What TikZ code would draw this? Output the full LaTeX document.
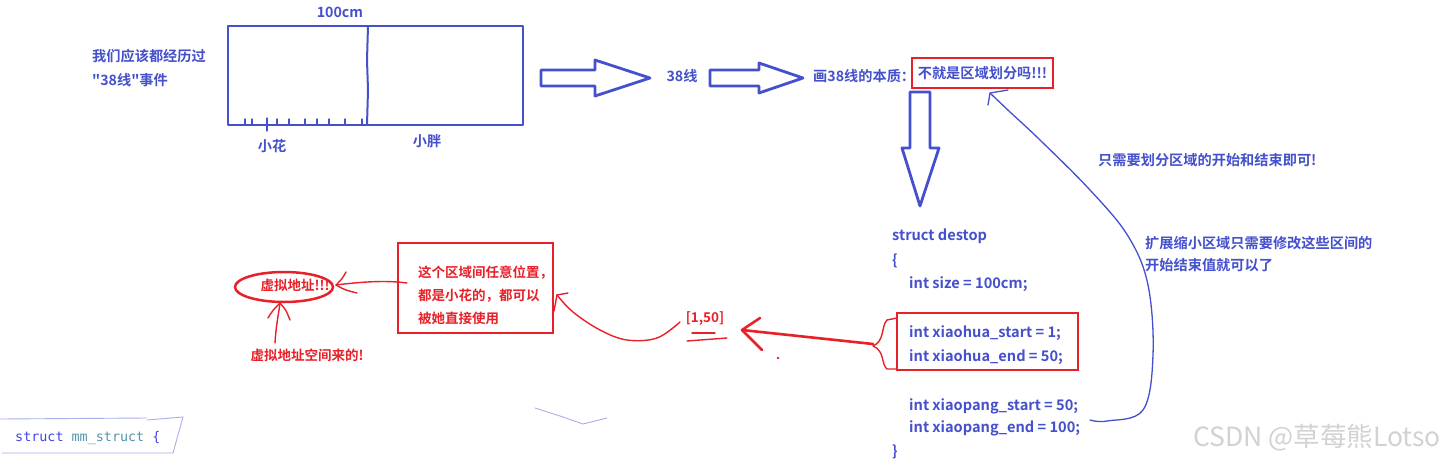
\documentclass[tikz,border=0pt]{standalone}
\usepackage{fontspec}
\newfontfamily\cjkb{Noto Sans CJK SC Bold}
\newfontfamily\cjkr{Noto Sans CJK SC}
\newfontfamily\monof{DejaVu Sans Mono}
\definecolor{myblue}{RGB}{68,80,204}
\definecolor{myred}{RGB}{232,32,40}
\definecolor{faint}{RGB}{170,175,235}
\definecolor{wm}{RGB}{210,210,210}
\definecolor{kwblue}{RGB}{70,70,230}
\definecolor{teal}{RGB}{85,150,170}
\begin{document}
\begin{tikzpicture}[x=1pt,y=-1pt,
  btxt/.style={text=myblue,font=\cjkb\fontsize{14.2}{16}\selectfont,inner sep=0pt},
  rtxt/.style={text=myred,font=\cjkb\fontsize{13.5}{16}\selectfont,inner sep=0pt},
  bpen/.style={draw=myblue,line width=1.3pt,line cap=round,line join=round},
  bthick/.style={draw=myblue,line width=2.8pt,line join=round},
  rpen/.style={draw=myred,line width=1.4pt,line cap=round,line join=round},
  rbox/.style={draw=myred,line width=2.5pt},
  codetxt/.style={text=myblue,font=\cjkb\fontsize{14.6}{16}\selectfont,inner sep=0pt,anchor=west},
  faintpen/.style={draw=faint,line width=0.9pt,line cap=round}
]
\fill[white] (0,0) rectangle (1452,464);
\useasboundingbox (0,0) rectangle (1452,464);

% ---------- top-left: the desk ----------
\node[btxt,anchor=west] (t1) at (92,56) {我们应该都经历过};
\node[btxt,anchor=west] (t2) at (92,80) {"38线"事件};
\node[btxt] (len) at (340,12) {100cm};
\draw[bthick] (228,26) rectangle (523,125);
\draw[bpen,line width=2pt] (368,26) -- (367,60) -- (368,90) -- (367,125);
\foreach \x in {245,252,277,289,305,317,329,345,362}
  \draw[bpen,line width=1.2pt] (\x,119) -- (\x,125);
\draw[bpen,line width=1.2pt] (267,118) -- (267,131);
\node[btxt] (xh) at (272,146) {小花};
\node[btxt] (xp) at (427,141) {小胖};

% ---------- block arrows ----------
\draw[bthick] (541,70) -- (595,70) -- (595,60) -- (650,78) -- (595,96) -- (595,86) -- (541,86) -- cycle;
\node[btxt] (l38) at (682,76) {38线};
\draw[bthick] (710,70) -- (759,70) -- (759,63) -- (803,78) -- (759,93) -- (759,86) -- (710,86) -- cycle;
\node[btxt,anchor=west] (ess) at (813,76) {画38线的本质：};
\node[rbox,text=myblue,font=\cjkb\fontsize{14.2}{16}\selectfont,inner sep=0pt,
      minimum width=141pt,minimum height=30pt] (q) at (982.5,73) {不就是区域划分吗!!!};
\draw[bthick] (910,92) -- (930,92) -- (930,148) -- (939,148) -- (920,206) -- (902,148) -- (910,148) -- cycle;

% ---------- code ----------
\node[codetxt] (c1) at (892,236) {struct destop};
\node[codetxt] (c2) at (892,261) {\{};
\node[codetxt] (c3) at (909,284) {int size = 100cm;};
\node[codetxt] (c4) at (909,333) {int xiaohua\_start = 1;};
\node[codetxt] (c5) at (909,357) {int xiaohua\_end = 50;};
\node[codetxt] (c6) at (909,406) {int xiaopang\_start = 50;};
\node[codetxt] (c7) at (909,428) {int xiaopang\_end = 100;};
\node[codetxt] (c8) at (892,452) {\}};
\draw[rbox] (897,313) rectangle (1078,370);
\draw[rpen] (897,318) -- (887,320) .. controls (881,326) and (885,341) .. (873,346)
            .. controls (885,351) and (881,364) .. (887,369) -- (897,369);
\coordinate (bt) at (873,344);

% ---------- blue notes and curve ----------
\node[btxt,anchor=west] (n1) at (1098,160) {只需要划分区域的开始和结束即可!};
\node[btxt,anchor=west] (n2) at (1145,243) {扩展缩小区域只需要修改这些区间的};
\node[btxt,anchor=west] (n3) at (1145,265) {开始结束值就可以了};
\coordinate (cs) at (1090,420);
\coordinate (ce) at (990,93);
\draw[bpen] plot[smooth,tension=0.6] coordinates {(cs) (1107,421) (1143,410) (1153,355) (1148,285) (1128,236) (1090,190) (1040,140) (1010,112) (ce)};
\draw[bpen] (988,105) -- (ce) -- (1008,90);

% ---------- red arrow and [1,50] ----------
\node[rtxt] (iv) at (705,319) {[1,50]};
\draw[rpen] (692,333) -- (715,333);
\draw[rpen] (687,341) -- (727,338);
\coordinate (at) at (742,330);
\draw[draw=myred,line width=2.6pt,line cap=round] (bt) -- (at);
\draw[draw=myred,line width=2.6pt,line cap=round,line join=round] (760,318) -- (at) -- (762,350);
\fill[myred] (778,358) circle (1.4pt);

% ---------- red box with text ----------
\draw[rbox] (398,243) rectangle (553,333);
\node[rtxt,anchor=west] (r1) at (418,273) {这个区域间任意位置，};
\node[rtxt,anchor=west] (r2) at (418,296) {都是小花的，都可以};
\node[rtxt,anchor=west] (r3) at (418,318) {被她直接使用};
\coordinate (rs) at (680,322);
\coordinate (re) at (557,295);
\draw[rpen] plot[smooth,tension=0.6] coordinates {(rs) (657,338) (627,340) (600,330) (573,312) (re)};
\draw[rpen] (554,311) -- (re) -- (568,293);

% ---------- ellipse ----------
\draw[draw=myred,line width=2.5pt] (284,287) ellipse [x radius=49pt, y radius=15pt];
\node[rtxt] (va) at (295,285) {虚拟地址!!!};
\coordinate (ae) at (336,285);
\draw[rpen] (407,283) .. controls (385,280) and (360,282) .. (ae);
\draw[rpen] (346,272) .. controls (342,279) .. (ae) .. controls (345,290) .. (357,293);
\node[rtxt] (vs) at (307,355) {虚拟地址空间来的!};
\coordinate (ue) at (280,303);
\draw[rpen] (275,343) .. controls (276,325) and (279,312) .. (ue);
\draw[rpen] (268,318) .. controls (273,310) .. (ue) .. controls (286,310) .. (290,320);

% ---------- bottom-left snippet ----------
\draw[faintpen] (0,419) -- (147,418);
\draw[faintpen] (147,420) -- (183,417) -- (173,453) -- (2,453);
\node[anchor=west,inner sep=0pt,font=\monof\fontsize{13.4}{15}\selectfont] (mm) at (15,438)
  {\textcolor{kwblue}{struct} \textcolor{teal}{mm\_struct} \textcolor{kwblue}{\{}};
\draw[faintpen] (535,408) -- (560,416) -- (583,424) -- (607,418);

% ---------- watermark ----------
\node[text=wm,font=\cjkr\fontsize{26.5}{28}\selectfont,inner sep=0pt] (wmk) at (1317,438) {CSDN @草莓熊Lotso};
\end{tikzpicture}
\end{document}
